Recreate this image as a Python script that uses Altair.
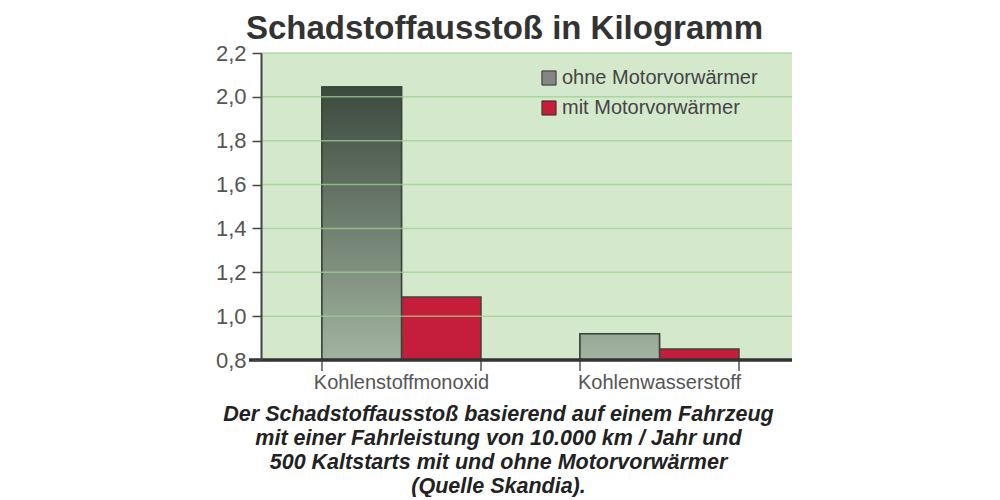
import altair as alt
import pandas as pd

categories = ["Kohlenstoffmonoxid", "Kohlenwasserstoff"]
series = ["ohne Motorvorwärmer", "mit Motorvorwärmer"]
ohne = [2.045, 0.92]
mit = [1.087, 0.85]
y_ticks = [0.8, 1.0, 1.2, 1.4, 1.6, 1.8, 2.0, 2.2]
title_text = "Schadstoffausstoß in Kilogramm"
caption = [
    "Der Schadstoffausstoß basierend auf einem Fahrzeug",
    "mit einer Fahrleistung von 10.000 km / Jahr und",
    "500 Kaltstarts mit und ohne Motorvorwärmer",
    "(Quelle Skandia).",
]

rows = []
for i, c in enumerate(categories):
    rows.append({"cat": c, "serie": series[0], "wert": ohne[i]})
    rows.append({"cat": c, "serie": series[1], "wert": mit[i]})
df = pd.DataFrame(rows)
cats_df = pd.DataFrame({"cat": categories})
grid_df = pd.DataFrame({"v": y_ticks[1:]})

W, H = 531, 307
FONT = "Liberation Sans"

grad_co = {
    "gradient": "linear", "x1": 0, "y1": 0, "x2": 0, "y2": 1,
    "stops": [{"offset": 0, "color": "#3b4a3d"}, {"offset": 1, "color": "#a3b3a1"}],
}
grad_hc = {
    "gradient": "linear", "x1": 0, "y1": 0, "x2": 0, "y2": 1,
    "stops": [{"offset": 0, "color": "#98a896"}, {"offset": 1, "color": "#a4b4a2"}],
}

xenc = alt.X(
    "cat:N",
    sort=categories,
    scale=alt.Scale(paddingInner=0.3837, paddingOuter=0.2209, align=0.535),
    axis=alt.Axis(
        title=caption,
        labelFontSize=20,
        labelColor="#555555",
        labelFont=FONT,
        labelPadding=12,
        labelAngle=0,
        labelLimit=0,
        ticks=False,
        domain=False,
        titleFont=FONT,
        titleFontSize=21.5,
        titleFontWeight="bold",
        titleFontStyle="italic",
        titleColor="#222222",
        titleLineHeight=24,
        titlePadding=11,
        titleX=237,
    ),
)

yscale = alt.Scale(domain=[0.8, 2.2], zero=False, nice=False)
yenc = alt.Y(
    "wert:Q",
    scale=yscale,
    axis=alt.Axis(
        title=None,
        values=y_ticks,
        labelExpr="replace(format(datum.value, '.1f'), '.', ',')",
        labelFontSize=22,
        labelColor="#555555",
        labelFont=FONT,
        labelPadding=6,
        tickSize=9,
        tickColor="#444444",
        tickWidth=1.5,
        domainColor="#444444",
        domainWidth=2,
        grid=False,
        zindex=1,
    ),
)

base = alt.Chart(df)

bars = base.mark_bar(stroke="#3a443a", strokeWidth=1.5).encode(
    x=xenc,
    xOffset=alt.XOffset("serie:N", sort=series, scale=alt.Scale(paddingInner=0, paddingOuter=0)),
    y=yenc,
    y2=alt.datum(0.8),
    color=alt.Color(
        "serie:N",
        sort=series,
        scale=alt.Scale(domain=series, range=["#858585", "#c41e3a"]),
        legend=alt.Legend(
            title=None,
            orient="none",
            legendX=278,
            legendY=15,
            symbolType="square",
            symbolSize=200,
            symbolStrokeColor="#333333",
            symbolStrokeWidth=1,
            labelFontSize=20,
            labelFont=FONT,
            labelColor="#444444",
            labelLimit=0,
            rowPadding=10,
            labelOffset=3,
        ),
    ),
)

grad_bars = base.transform_filter(alt.datum.serie == series[0]).mark_bar(
    stroke="#3a443a", strokeWidth=1.5
).encode(
    x=alt.X("cat:N", sort=categories),
    xOffset=alt.XOffset("serie:N", sort=series),
    y=alt.Y("wert:Q"),
    y2=alt.datum(0.8),
    fill=alt.condition(
        alt.datum.cat == categories[0], alt.value(grad_co), alt.value(grad_hc)
    ),
)

grid = alt.Chart(grid_df).mark_rule(color="#9fcf92", strokeWidth=1.5, opacity=0.75).encode(
    y=alt.Y("v:Q"), x=alt.value(0), x2=alt.value(W)
)

baseline = alt.Chart(cats_df).mark_rule(color="#333333", strokeWidth=3).encode(
    y=alt.datum(0.8), x=alt.value(-12), x2=alt.value(W)
)

ticks_left = alt.Chart(cats_df).mark_rule(color="#555555", strokeWidth=1.5).encode(
    x=alt.X("cat:N", sort=categories, bandPosition=0),
    y=alt.value(H),
    y2=alt.value(H + 11),
)
ticks_right = alt.Chart(cats_df).mark_rule(color="#555555", strokeWidth=1.5).encode(
    x=alt.X("cat:N", sort=categories, bandPosition=1),
    y=alt.value(H),
    y2=alt.value(H + 11),
)

chart = (
    alt.layer(bars, grad_bars, grid, ticks_left, ticks_right, baseline)
    .properties(
        width=W,
        height=H,
        view=alt.ViewBackground(fill="#d4e9cc", stroke=None),
        title=alt.TitleParams(
            title_text,
            fontSize=33,
            fontWeight="bold",
            color="#333333",
            font=FONT,
            frame="bounds",
            anchor="middle",
            offset=-4,
        ),
        padding={"left": 207, "top": 5, "right": 5, "bottom": 0},
    )
    .configure_view(fill="#d4e9cc", stroke=None)
    .configure(background="white")
)

chart.save("out.html", embed_options={"renderer": "svg", "actions": False})
